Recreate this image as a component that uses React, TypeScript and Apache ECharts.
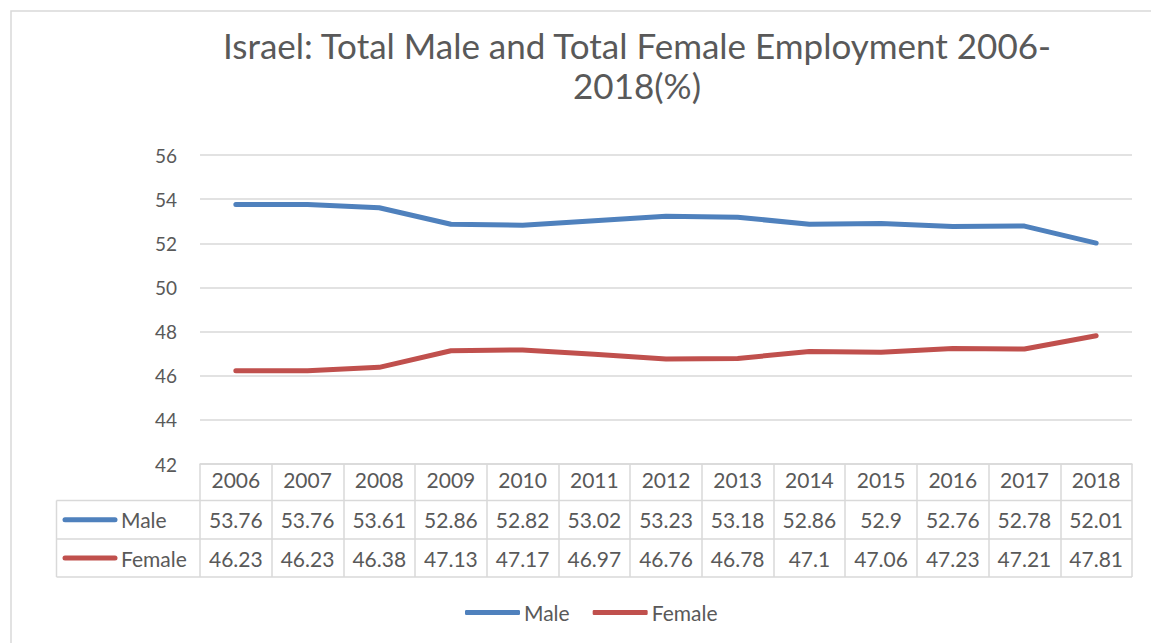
import React, { useEffect, useRef } from "react";
import * as echarts from "echarts";

const years = ["2006", "2007", "2008", "2009", "2010", "2011", "2012", "2013", "2014", "2015", "2016", "2017", "2018"];
const male = [53.76, 53.76, 53.61, 52.86, 52.82, 53.02, 53.23, 53.18, 52.86, 52.9, 52.76, 52.78, 52.01];
const female = [46.23, 46.23, 46.38, 47.13, 47.17, 46.97, 46.76, 46.78, 47.1, 47.06, 47.23, 47.21, 47.81];
const seriesNames = ["Male", "Female"];
const yTicks = { min: 42, max: 56, interval: 2 };

const FONT = "Lato, 'Open Sans', sans-serif";
const TXT = "#595959";
const GRID = "#d9d9d9";
const BLUE = "#4f81bd";
const RED = "#c0504d";

const W = 1151;
const H = 643;
const GL = 200;
const GR = 1132;
const GT = 155;
const GB = 464;
const ROW1 = 500.5;
const ROW2 = 539;
const ROW3 = 577;
const TABLE_LEFT = 56.5;

export default function App() {
  const ref = useRef<HTMLDivElement>(null);
  useEffect(() => {
    if (!ref.current) return;
    const chart = echarts.init(ref.current, undefined, { renderer: "svg" });
    chart.setOption({
      animation: false,
      backgroundColor: "#ffffff",
      title: {
        text: "Israel: Total Male and Total Female Employment 2006-\n2018(%)",
        left: 632,
        top: 20,
        textAlign: "center",
        textStyle: { fontFamily: FONT, fontSize: 35, fontWeight: "normal", color: TXT, lineHeight: 40 },
      },
      legend: {
        left: 460,
        top: 597,
        itemWidth: 55,
        itemHeight: 5,
        itemGap: 23,
        icon: "roundRect",
        data: seriesNames,
        textStyle: { fontFamily: FONT, fontSize: 21, color: TXT, padding: [0, 0, 0, -1] },
      },
      grid: { left: GL, right: W - GR, top: GT, bottom: H - GB, containLabel: false },
      xAxis: {
        type: "category",
        data: years,
        boundaryGap: true,
        axisLine: { show: true, lineStyle: { color: GRID, width: 1.5 } },
        axisTick: { show: true, interval: 0, length: ROW3 - GB, lineStyle: { color: GRID, width: 1.5 } },
        axisLabel: { interval: 0, margin: 5, fontFamily: FONT, fontSize: 21, color: TXT },
      },
      yAxis: {
        type: "value",
        min: yTicks.min,
        max: yTicks.max,
        interval: yTicks.interval,
        axisLine: { show: false },
        axisTick: { show: false },
        axisLabel: { margin: 23, fontFamily: FONT, fontSize: 19, color: TXT },
        splitLine: { lineStyle: { color: GRID, width: 1.5 } },
      },
      series: [
        {
          name: seriesNames[0],
          type: "line",
          data: male,
          symbol: "none",
          color: BLUE,
          lineStyle: { width: 5, color: BLUE, cap: "round", join: "round" },
        },
        {
          name: seriesNames[1],
          type: "line",
          data: female,
          symbol: "none",
          color: RED,
          lineStyle: { width: 5, color: RED, cap: "round", join: "round" },
        },
      ],
    });

    const graphic: any[] = [
      { type: "rect", shape: { x: 11, y: 11, width: 1300, height: 800 }, style: { fill: "none", stroke: GRID, lineWidth: 1.5 }, silent: true },
      { type: "line", shape: { x1: TABLE_LEFT, y1: ROW1, x2: GR, y2: ROW1 }, style: { stroke: GRID, lineWidth: 1.5 } },
      { type: "line", shape: { x1: TABLE_LEFT, y1: ROW2, x2: GR, y2: ROW2 }, style: { stroke: GRID, lineWidth: 1.5 } },
      { type: "line", shape: { x1: TABLE_LEFT, y1: ROW3, x2: GR, y2: ROW3 }, style: { stroke: GRID, lineWidth: 1.5 } },
      { type: "line", shape: { x1: TABLE_LEFT, y1: ROW1, x2: TABLE_LEFT, y2: ROW3 }, style: { stroke: GRID, lineWidth: 1.5 } },
    ];
    const rows = [
      { name: seriesNames[0], color: BLUE, values: male, y: (ROW1 + ROW2) / 2 },
      { name: seriesNames[1], color: RED, values: female, y: (ROW2 + ROW3) / 2 },
    ];
    rows.forEach((r) => {
      graphic.push({
        type: "line",
        shape: { x1: 65, y1: r.y, x2: 115, y2: r.y },
        style: { stroke: r.color, lineWidth: 5, lineCap: "round" },
      });
      graphic.push({
        type: "text",
        x: 121,
        y: r.y,
        style: { text: r.name, fontFamily: FONT, fontSize: 21, fill: TXT, verticalAlign: "middle", align: "left" },
      });
      r.values.forEach((v, i) => {
        const px = chart.convertToPixel({ xAxisIndex: 0 }, years[i]) as number;
        graphic.push({
          type: "text",
          x: px,
          y: r.y,
          style: { text: String(v), fontFamily: FONT, fontSize: 21, fill: TXT, verticalAlign: "middle", align: "center" },
        });
      });
    });
    chart.setOption({ graphic });

    return () => chart.dispose();
  }, []);
  return <div ref={ref} style={{ position: "fixed", left: 0, top: 0, width: W, height: H }} />;
}
